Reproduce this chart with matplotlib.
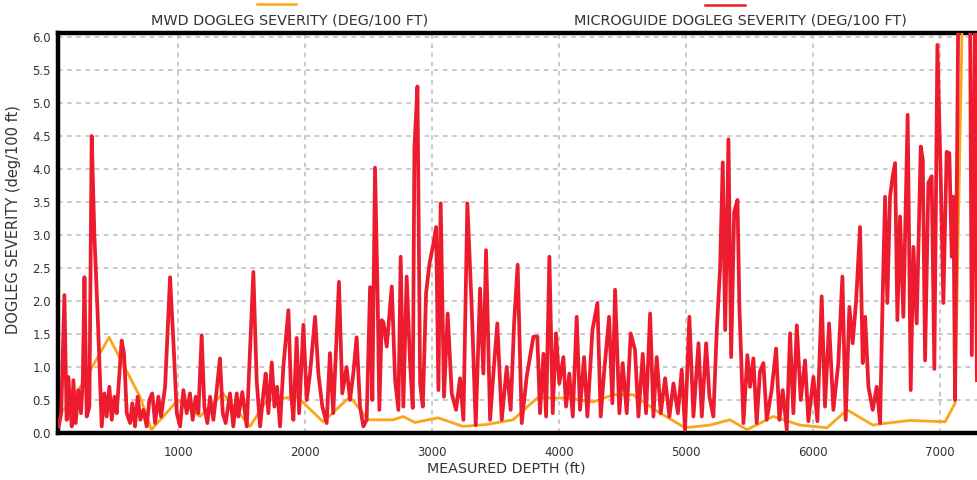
import matplotlib
matplotlib.use('Agg')
import matplotlib.pyplot as plt
from matplotlib.lines import Line2D

# MWD survey dogleg severity (deg/100 ft)
mwd_depth = [100, 250, 457, 700, 790, 1000, 1173, 1354, 1567, 1700, 1937, 2142,
             2354, 2496, 2600, 2693, 2772, 2866, 3047, 3244, 3433, 3638, 3827,
             4063, 4268, 4425, 4583, 4772, 4992, 5189, 5346, 5480, 5685, 5898,
             6110, 6268, 6472, 6580, 6764, 7040, 7118, 7173, 7400]
mwd_dls = [0.35, 0.75, 1.45, 0.55, 0.05, 0.5, 0.25, 0.6, 0.1, 0.5, 0.55, 0.17,
           0.55, 0.2, 0.2, 0.2, 0.25, 0.16, 0.23, 0.1, 0.13, 0.2, 0.53,
           0.53, 0.47, 0.58, 0.58, 0.33, 0.08, 0.12, 0.2, 0.05, 0.25, 0.12,
           0.08, 0.35, 0.12, 0.15, 0.19, 0.17, 0.45, 6.1, 9.0]

# MicroGuide continuous dogleg severity (deg/100 ft)
mg_depth = [60, 80, 105, 123, 136, 150, 163, 176, 194, 215, 236, 250, 263, 281,
            302, 320, 341, 367, 399, 420, 438, 459, 478, 499, 517, 556, 575,
            596, 622, 640, 661, 682, 703, 727, 753, 774, 797, 819, 845, 866,
            898, 937, 963, 990, 1016, 1042, 1068, 1094, 1115, 1139, 1160, 1186,
            1207, 1231, 1252, 1278, 1304, 1330, 1352, 1375, 1409, 1435, 1462,
            1475, 1506, 1541, 1593, 1619, 1646, 1672, 1690, 1711, 1738, 1759,
            1780, 1803, 1829, 1869, 1890, 1908, 1934, 1953, 1987, 2013, 2039,
            2079, 2105, 2136, 2170, 2196, 2222, 2267, 2293, 2327, 2354, 2380,
            2406, 2433, 2459, 2485, 2512, 2530, 2551, 2572, 2585,
            2604, 2617, 2643, 2665, 2683, 2709, 2735, 2753, 2774, 2800, 2827,
            2848, 2861, 2885, 2906, 2927, 2953, 2980, 3011, 3032, 3050, 3068,
            3094, 3123, 3155, 3189, 3220, 3247, 3278, 3312, 3344, 3378, 3404,
            3425, 3457, 3483, 3514, 3549, 3588, 3619, 3646, 3674, 3706, 3745,
            3798, 3829, 3850, 3877, 3898, 3924, 3950, 3976, 4002, 4034, 4055,
            4081, 4108, 4139, 4165, 4197, 4223, 4263, 4302, 4328, 4354, 4394,
            4420, 4441, 4475, 4501, 4533, 4564, 4598, 4625, 4659, 4685, 4717,
            4743, 4769, 4801, 4835, 4869, 4901, 4936, 4966, 4992, 5026, 5058,
            5098, 5124, 5158, 5184, 5215, 5242, 5268, 5289, 5308, 5334, 5355,
            5379, 5405, 5420, 5452, 5483, 5504, 5530, 5556, 5582, 5609, 5635,
            5674, 5709, 5735, 5761, 5793, 5819, 5845, 5872, 5903, 5937, 5963,
            6003, 6034, 6068, 6094, 6126, 6160, 6199, 6231, 6257, 6286, 6312,
            6339, 6370, 6391, 6410, 6436, 6470, 6501, 6528, 6546, 6567, 6585,
            6606, 6627, 6646, 6664, 6685, 6711, 6745, 6769, 6790, 6816, 6848,
            6864, 6882, 6908, 6934, 6955, 6979, 7005, 7026, 7052, 7073, 7092,
            7105, 7118, 7144, 7236, 7250, 7276, 7290]
mg_dls = [0.1, 0.3, 2.09, 0.2, 0.85, 0.4, 0.1, 0.8, 0.15, 0.65, 0.3, 0.8, 2.36,
          0.25, 0.4, 4.5, 3.0, 1.8, 0.1, 0.6, 0.25, 0.7, 0.2, 0.55, 0.3, 1.4,
          1.2, 0.3, 0.15, 0.45, 0.1, 0.55, 0.2, 0.35, 0.1, 0.5, 0.6, 0.15,
          0.55, 0.25, 0.7, 2.36, 1.4, 0.3, 0.1, 0.65, 0.3, 0.6, 0.2, 0.55, 0.3,
          1.48, 0.4, 0.15, 0.55, 0.2, 0.65, 1.13, 0.3, 0.15, 0.6, 0.1, 0.6,
          0.25, 0.62, 0.1, 2.44, 0.8, 0.1, 0.6, 0.9, 0.3, 1.07, 0.4, 0.7, 0.1,
          1.0, 1.86, 0.6, 0.2, 1.44, 0.3, 1.64, 0.5, 0.9, 1.76, 0.9, 0.4, 0.15,
          1.21, 0.3, 2.29, 0.6, 1.0, 0.5, 0.9, 1.45, 0.4, 0.1, 0.2, 2.21, 0.5,
          4.02, 2.0, 0.35,
          1.71, 1.68, 1.31, 1.82, 2.22, 0.8, 0.35, 2.67, 0.4, 2.37, 1.06,
          0.38, 4.31, 5.25, 0.75, 0.4, 2.12, 2.57, 2.87, 3.12, 0.65, 3.48,
          0.55, 1.81, 0.6, 0.35, 0.83, 0.2, 3.48, 1.91, 0.12, 2.19, 0.9,
          2.77, 0.2, 0.9, 1.66, 0.2, 1.0, 0.35, 1.66, 2.55, 0.15, 0.85,
          1.46, 1.46, 0.3, 1.2, 0.25, 2.67, 0.3, 1.51, 0.75, 1.15, 0.4,
          0.9, 0.25, 1.76, 0.35, 1.15, 0.25, 1.56, 1.97, 0.25, 0.9, 1.76,
          0.45, 2.17, 0.3, 1.06, 0.3, 1.51, 1.26, 0.25, 1.2, 0.3, 1.81,
          0.25, 1.15, 0.3, 0.83, 0.25, 0.75, 0.3, 0.96, 0.05, 1.76, 0.25,
          1.36, 0.25, 1.36, 0.55, 0.25, 1.56, 2.5, 4.1, 1.56, 4.45, 1.15,
          3.35, 3.53, 1.91, 0.15, 1.18, 0.7, 1.13, 0.15, 0.93, 1.06, 0.2,
          0.65, 1.28, 0.2, 0.65, 0.05, 1.51, 0.3, 1.63, 0.5, 1.1, 0.18,
          0.85, 0.18, 2.07, 0.4, 1.66, 0.35, 1.06, 2.37, 0.2, 1.91, 1.36,
          2.0, 3.12, 1.06, 1.76, 0.7, 0.35, 0.7, 0.15, 1.88, 3.58, 1.97,
          3.58, 3.89, 4.09, 1.71, 3.28, 1.76, 4.82, 0.65, 2.82, 1.66, 4.34,
          4.14, 1.1, 3.79, 3.89, 0.97, 5.88, 3.89, 1.97, 4.26, 4.24, 2.67,
          3.58, 0.5, 6.5, 6.5, 1.18, 6.5, 0.8]

x_ticks = [1000, 2000, 3000, 4000, 5000, 6000, 7000]
y_ticks = [0.0, 0.5, 1.0, 1.5, 2.0, 2.5, 3.0, 3.5, 4.0, 4.5, 5.0, 5.5, 6.0]

MWD_COLOR = '#F9A61B'
MG_COLOR = '#EC1C2E'
TEXT = '#333333'

plt.rcParams['font.family'] = ['DejaVu Sans']

fig = plt.figure(figsize=(9.77, 4.80), dpi=100)
ax = fig.add_axes([0.0594, 0.0979, 0.9488, 0.8333])

ax.plot(mwd_depth, mwd_dls, color=MWD_COLOR, lw=2.0, zorder=3)
ax.plot(mg_depth, mg_dls, color=MG_COLOR, lw=2.7, zorder=4)

ax.set_xlim(55, 7354)
ax.set_ylim(0, 6.06)
ax.set_xticks(x_ticks)
ax.set_yticks(y_ticks)
ax.set_yticklabels([f'{v:.1f}' for v in y_ticks])
ax.tick_params(length=0, labelsize=8.5, colors=TEXT)
ax.tick_params(axis='x', pad=9)
ax.tick_params(axis='y', pad=5)
ax.grid(True, color='#bbbbbb', ls=(0, (3, 3)), lw=1.1)
ax.set_axisbelow(True)
for sp in ax.spines.values():
    sp.set_linewidth(3.2)
    sp.set_color('black')

fig.text(14 / 977, 1 - 220 / 480, 'DOGLEG SEVERITY (deg/100 ft)', rotation=90,
         ha='center', va='center', fontsize=10.5, color=TEXT)
fig.text(506 / 977, 1 - 468 / 480, 'MEASURED DEPTH (ft)', ha='center',
         va='center', fontsize=10.3, color=TEXT)

# legend: short line sample above each label
for (x0, x1, ly), (tx, ty), label, c in [
        ((257, 296, 4), (290, 20), 'MWD DOGLEG SEVERITY (DEG/100 FT)', MWD_COLOR),
        ((705, 745, 5), (740, 20), 'MICROGUIDE DOGLEG SEVERITY (DEG/100 FT)', MG_COLOR)]:
    fig.add_artist(Line2D([x0 / 977, x1 / 977], [1 - ly / 480, 1 - ly / 480],
                          color=c, lw=1.8, transform=fig.transFigure))
    fig.text(tx / 977, 1 - ty / 480, label, ha='center', va='center',
             fontsize=10.4, color=TEXT)

fig.savefig('out.png', dpi=100)
